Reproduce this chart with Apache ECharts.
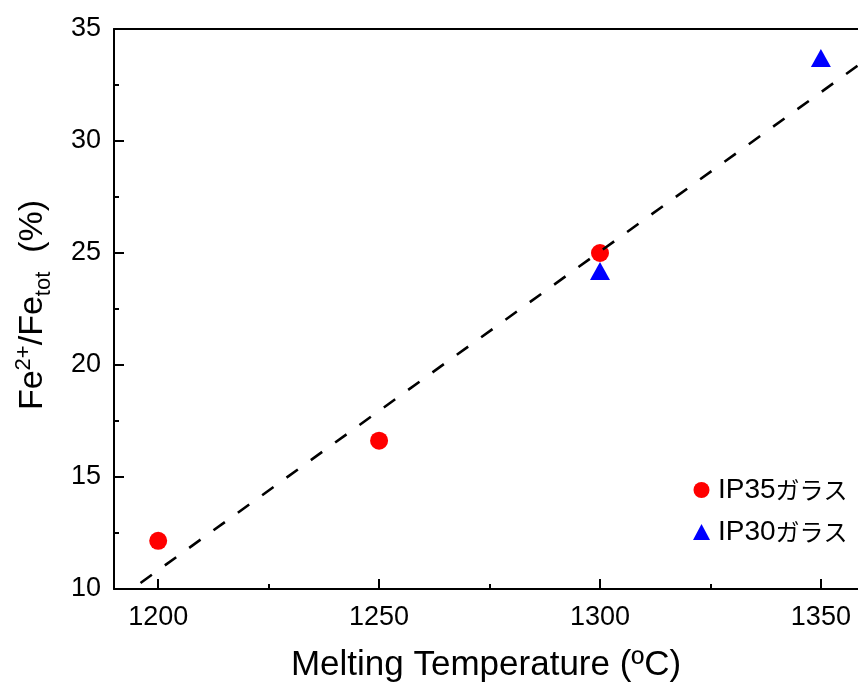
<!DOCTYPE html>
<html>
<head>
<meta charset="utf-8">
<script src="https://cdn.jsdelivr.net/npm/echarts@6/dist/echarts.min.js"></script>
<style>html,body{margin:0;padding:0;background:#fff;}#c{width:858px;height:691px;}</style>
</head>
<body>
<div id="c"></div>
<script>
const tempIP35 = [1200, 1250, 1300];
const feIP35 = [12.15, 16.62, 25.0];
const tempIP30 = [1300, 1350];
const feIP30 = [24.2, 33.7];
const fitTemp = [1196, 1360];
const fitFe = [10.27, 33.6];
const xMajorTicks = [1200, 1250, 1300, 1350];
const xMinorTicks = [1225, 1275, 1325];
const seriesNames = ['IP35ガラス', 'IP30ガラス'];

const FONT = "'Liberation Sans', Arial, 'Noto Sans CJK JP', sans-serif";
const JFONT = "'Noto Sans CJK JP', sans-serif";
const chart = echarts.init(document.getElementById('c'), null, {renderer: 'canvas'});

const pair = (xs, ys) => xs.map((x, i) => [x, ys[i]]);
const XMIN = 1190, XMAX = 1358.4;

chart.setOption({
  animation: false,
  backgroundColor: '#fff',
  grid: {left: 114, top: 29, right: 0, bottom: 102, show: false},
  legend: {
    orient: 'vertical', left: 688, top: 471, itemGap: 14, itemWidth: 17, itemHeight: 16,
    formatter: function (name) {
      return '{l|' + name.slice(0, 4) + '}{j|' + name.slice(4) + '}';
    },
    textStyle: {
      fontFamily: FONT, fontSize: 28, color: '#000', padding: [0, 0, 0, 3],
      rich: {
        l: {fontFamily: FONT, fontSize: 28, color: '#000'},
        j: {fontFamily: JFONT, fontSize: 24, color: '#000'}
      }
    },
    data: [{name: seriesNames[0], icon: 'circle'}, {name: seriesNames[1], icon: 'triangle'}]
  },
  xAxis: [{
    type: 'value', min: XMIN, max: XMAX, position: 'bottom',
    name: 'Melting Temperature (ºC)', nameLocation: 'middle', nameGap: 59,
    nameTextStyle: {fontFamily: FONT, fontSize: 35, color: '#000'},
    axisLine: {show: true, lineStyle: {color: '#000', width: 2}},
    axisTick: {show: true, inside: true, length: 10, customValues: xMajorTicks, lineStyle: {color: '#000', width: 2}},
    axisLabel: {show: true, customValues: xMajorTicks, margin: 15, fontFamily: FONT, fontSize: 27, color: '#000',
      formatter: v => String(v)},
    splitLine: {show: false}
  }, {
    type: 'value', min: XMIN, max: XMAX, position: 'bottom',
    axisLine: {show: false},
    axisTick: {show: true, inside: true, length: 5, customValues: xMinorTicks, lineStyle: {color: '#000', width: 2}},
    axisLabel: {show: false},
    splitLine: {show: false}
  }, {
    type: 'value', min: XMIN, max: XMAX, position: 'top',
    axisLine: {show: true, lineStyle: {color: '#000', width: 2}},
    axisTick: {show: false}, axisLabel: {show: false}, splitLine: {show: false}
  }],
  yAxis: {
    type: 'value', min: 10, max: 35, interval: 5,
    name: '{a|Fe}{sup|2+}{a|/Fe}{sub|tot}{a|  (%)}', nameLocation: 'middle', nameGap: 64, nameRotate: 90,
    nameTextStyle: {
      fontFamily: FONT, fontSize: 34, color: '#000', padding: [0, 0, 0, 8],
      rich: {
        a: {fontFamily: FONT, fontSize: 34, color: '#000', lineHeight: 40, verticalAlign: 'bottom'},
        sup: {fontFamily: FONT, fontSize: 22, color: '#000', lineHeight: 40, verticalAlign: 'top', padding: [3, 0, 0, 0]},
        sub: {fontFamily: FONT, fontSize: 22, color: '#000', lineHeight: 40, verticalAlign: 'bottom', padding: [0, 0, -5, 0]}
      }
    },
    axisLine: {show: true, lineStyle: {color: '#000', width: 2}},
    axisTick: {show: true, inside: true, length: 10, lineStyle: {color: '#000', width: 2}},
    minorTick: {show: true, splitNumber: 2, length: 5, lineStyle: {color: '#000', width: 2}},
    axisLabel: {margin: 13, fontFamily: FONT, fontSize: 27, color: '#000'},
    splitLine: {show: false}
  },
  series: [{
    name: seriesNames[0], type: 'scatter', data: pair(tempIP35, feIP35),
    symbol: 'circle', symbolSize: 18, itemStyle: {color: '#ff0000', opacity: 1}, z: 2
  }, {
    name: seriesNames[1], type: 'scatter', data: pair(tempIP30, feIP30),
    symbol: 'triangle', symbolSize: [20, 18], itemStyle: {color: '#0000ff', opacity: 1}, z: 2
  }, {
    name: 'fit', type: 'line', data: pair(fitTemp, fitFe), symbol: 'none',
    lineStyle: {color: '#000', width: 2.6, type: [14, 16]}, z: 3, silent: true
  }]
});
</script>
</body>
</html>
